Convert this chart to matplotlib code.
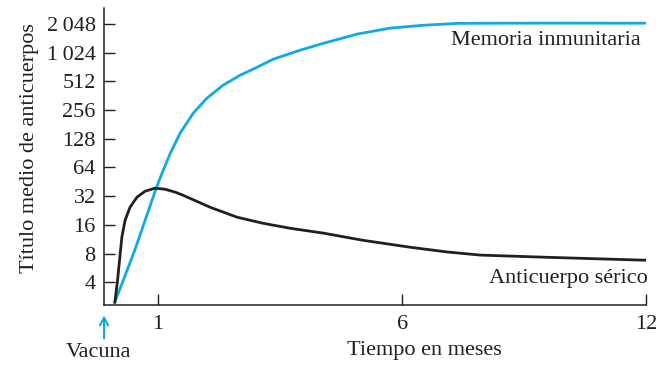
import numpy as np
import matplotlib.pyplot as plt

# tiempo (meses) y titulo de anticuerpos
t_memoria = [0.20, 0.57, 0.94, 1.04, 1.25, 1.45, 1.72, 2.00, 2.33, 2.68, 3.03, 3.36,
             3.91, 4.32, 5.08, 5.75, 6.52, 7.35, 8.16, 10.0, 12.0]
v_memoria = [2.47, 8.7, 35.2, 49.3, 90, 146, 237, 340, 465, 592, 719, 873,
             1084, 1252, 1600, 1846, 1980, 2070, 2080, 2085, 2080]

t_serico = [0.20, 0.25, 0.30, 0.33, 0.39, 0.48, 0.61, 0.76, 0.94, 1.14, 1.35, 1.51,
            2.07, 2.62, 3.15, 3.71, 4.38, 5.20, 6.20, 7.11, 7.92, 9.57, 12.0]
v_serico = [2.47, 4.2, 8.1, 11.9, 17.9, 24.4, 31.2, 36.0, 38.7, 37.8, 35.2, 32.7,
            24.4, 19.2, 16.6, 14.7, 13.1, 11.0, 9.3, 8.3, 7.7, 7.3, 6.8]

y_ticks = [4, 8, 16, 32, 64, 128, 256, 512, 1024, 2048]
y_labels = ['4', '8', '16', '32', '64', '128', '256', '512', '1\u2009024', '2\u2009048']
x_ticks = [1, 6, 12]

azul = '#0fa9e6'
negro = '#231f20'

plt.rcParams['font.family'] = ['Liberation Serif', 'DejaVu Serif']
fs = 16

# eje de tiempo no lineal como en la figura original
t_ref = [0, 1, 6, 12]
px_ref = [0, 54, 298, 542]
def fwd(t):
    return np.interp(t, t_ref, px_ref, left=-1e3, right=1e3)
def inv(p):
    return np.interp(p, px_ref, t_ref)

fig = plt.figure(figsize=(6.67, 3.65), dpi=100)
ax = fig.add_axes([0.156, 0.164, 0.813, 0.814])
ax.set_xscale('function', functions=(fwd, inv))
ax.set_yscale('log', base=2)

ax.plot(t_memoria, v_memoria, color=azul, lw=2.0, solid_joinstyle='round')
ax.plot(t_serico, v_serico, color=negro, lw=2.0, solid_joinstyle='round')

ax.set_xlim(0, 12)
ax.set_ylim(2.3, 3000)
ax.set_yticks(y_ticks)
ax.set_yticklabels(y_labels)
ax.minorticks_off()
ax.set_xticks(x_ticks)
ax.set_xticklabels([str(x) for x in x_ticks])

for s in ['top', 'right']:
    ax.spines[s].set_visible(False)
for s in ['left', 'bottom']:
    ax.spines[s].set_linewidth(1.1)
    ax.spines[s].set_color(negro)
ax.tick_params(axis='both', direction='in', length=8, width=1.0, color=negro,
               labelsize=fs, labelcolor=negro)
ax.tick_params(axis='y', pad=6)
ax.tick_params(axis='x', pad=7)

ax.set_ylabel('Título medio de anticuerpos', fontsize=fs, color=negro)
ax.yaxis.set_label_coords(-0.12, 0.53)
ax.set_xlabel('Tiempo en meses', fontsize=fs, color=negro)
ax.xaxis.set_label_coords(0.59, -0.122)

ax.text(0.990, 0.89, 'Memoria inmunitaria', transform=ax.transAxes, ha='right',
        va='center', fontsize=fs, color=negro)
ax.text(1.002, 0.09, 'Anticuerpo sérico', transform=ax.transAxes, ha='right',
        va='center', fontsize=fs, color=negro)

trans = ax.get_xaxis_transform()
ax.annotate('', xy=(0, -0.035), xytext=(0, -0.112), xycoords=trans, textcoords=trans,
            arrowprops=dict(arrowstyle='->,head_length=0.55,head_width=0.3',
                            color=azul, lw=1.5, shrinkA=0, shrinkB=0),
            annotation_clip=False)
ax.annotate('Vacuna', xy=(0, -0.158), xycoords=trans, xytext=(-4, 0),
            textcoords='offset points', ha='center', va='center',
            fontsize=fs, color=negro, annotation_clip=False)

fig.savefig('out.png', dpi=100)
